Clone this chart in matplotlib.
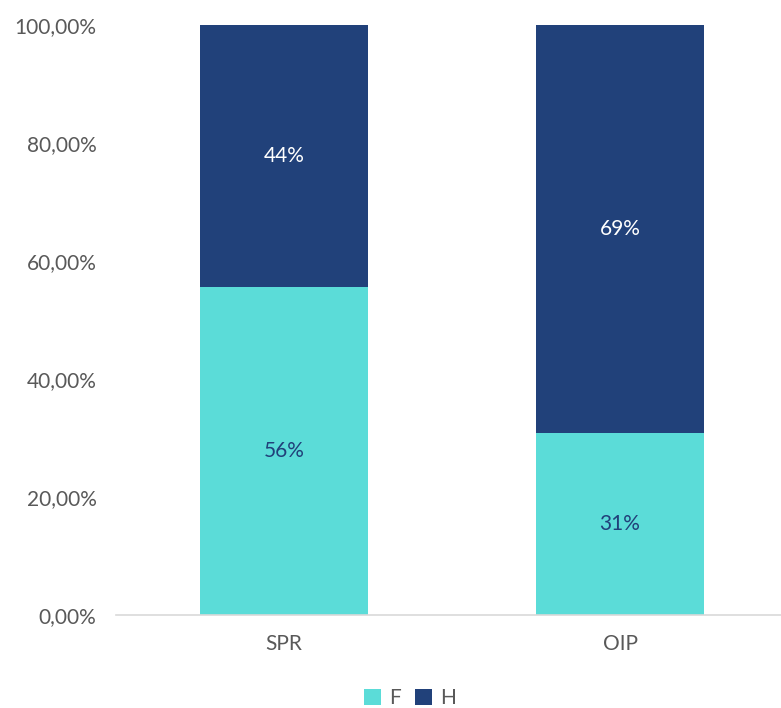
import matplotlib.pyplot as plt
import numpy as np

categories = ['SPR', 'OIP']
f_vals = [0.556, 0.308]
h_vals = [0.444, 0.692]
f_labels = ['56%', '31%']
h_labels = ['44%', '69%']
y_ticks = [0, 0.2, 0.4, 0.6, 0.8, 1.0]
y_tick_labels = ['0,00%', '20,00%', '40,00%', '60,00%', '80,00%', '100,00%']

teal = '#5BDCD8'
navy = '#21417A'
grey = '#595959'

plt.rcParams['font.family'] = ['Lato', 'DejaVu Sans']

fig = plt.figure(figsize=(7.81, 7.08), dpi=100)
ax = fig.add_axes([116 / 781, 93 / 708, 665 / 781, 590 / 708])

x = np.arange(len(categories))
bf = ax.bar(x, f_vals, width=0.5, color=teal, label='F')
bh = ax.bar(x, h_vals, width=0.5, bottom=f_vals, color=navy, label='H')

for i in range(len(categories)):
    ax.text(x[i], f_vals[i] / 2, f_labels[i], ha='center', va='center',
            fontsize=15, color=navy)
    ax.text(x[i], f_vals[i] + h_vals[i] / 2, h_labels[i], ha='center', va='center',
            fontsize=15, color='white')

ax.set_xlim(-0.5, -0.5 + 665 / 336)
ax.set_ylim(0, 1)
ax.set_yticks(y_ticks)
ax.set_yticklabels(y_tick_labels)
ax.set_xticks(x)
ax.set_xticklabels(categories)
ax.tick_params(axis='both', length=0, labelsize=15, labelcolor=grey)
ax.tick_params(axis='y', pad=14)
ax.tick_params(axis='x', pad=14)

for s in ['top', 'right', 'left']:
    ax.spines[s].set_visible(False)
ax.spines['bottom'].set_color('#D9D9D9')
ax.spines['bottom'].set_linewidth(1.2)

fig.legend(handles=[bf, bh], labels=['F', 'H'], loc='center', bbox_to_anchor=(410 / 781, 1 - 698 / 708),
           ncol=2, frameon=False, fontsize=15, handlelength=0.8, handleheight=0.8,
           columnspacing=0.7, handletextpad=0.4, labelcolor=grey)

fig.savefig('out.png', dpi=100)
